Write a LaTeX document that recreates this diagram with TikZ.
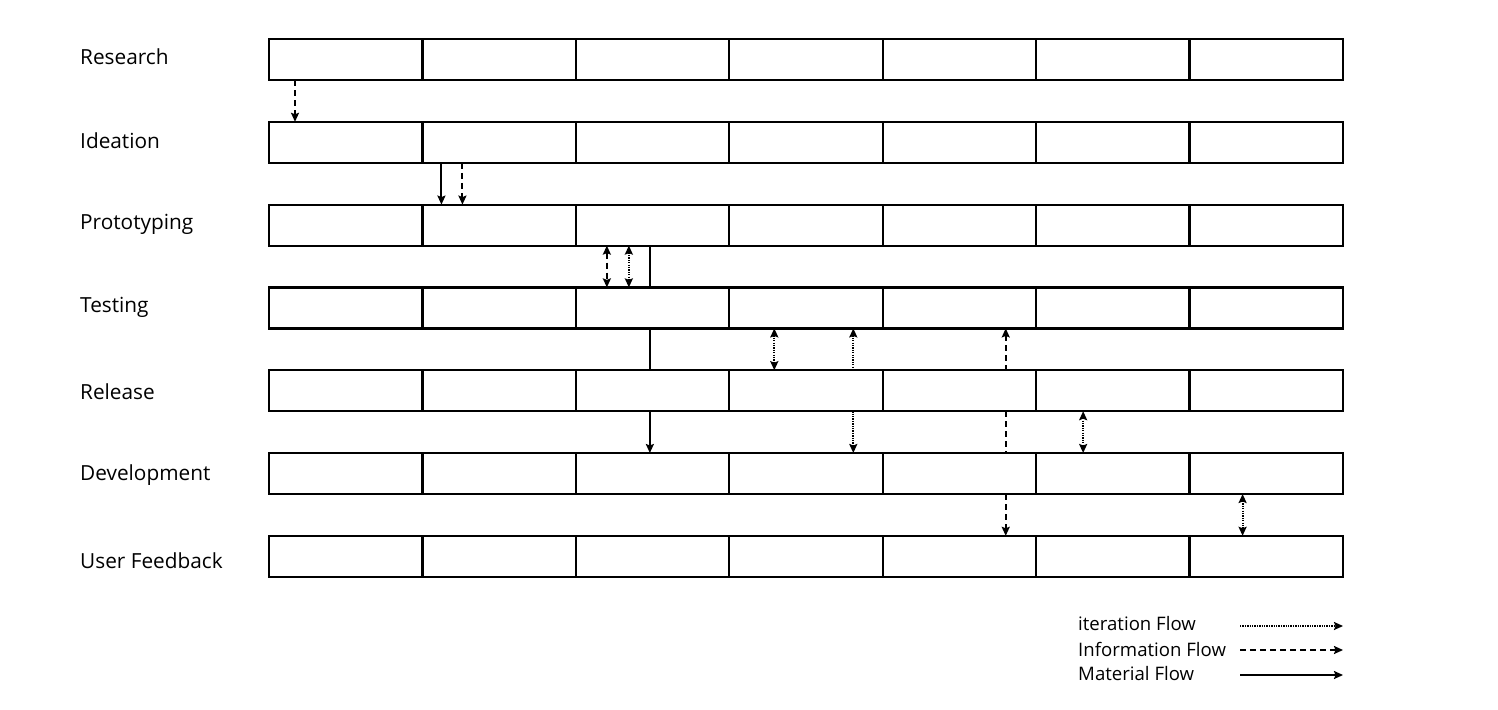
\documentclass[tikz,border=0pt]{standalone}
\usepackage{fontspec}
\setmainfont{Open Sans}
\usetikzlibrary{arrows.meta}
\begin{document}
\begin{tikzpicture}[x=1pt,y=-1pt,
  cell/.style={draw, line width=2.2pt, minimum width=153.43pt, minimum height=41pt, inner sep=0pt, outer sep=0pt},
  lbl/.style={anchor=west, inner sep=0pt, font=\fontsize{20.8}{25}\selectfont},
  leg/.style={anchor=west, inner sep=0pt, font=\fontsize{18.6}{22}\selectfont},
  flow/.style={line width=2pt, >={Stealth[length=9pt,width=8pt,inset=1.5pt]}},
  material/.style={flow},
  info/.style={flow, dash pattern=on 6pt off 4pt},
  iter/.style={flow, dash pattern=on 1.3pt off 1.1pt}]
\useasboundingbox (0,0) rectangle (1498,709);
\foreach \i/\name/\ly in {0/Research/57,1/Ideation/141,2/Prototyping/224,3/Testing/307,4/Release/392,5/Development/475,6/User Feedback/561}{
  \node[lbl] (L\i) at (80,\ly) {\name};
  \foreach \j in {0,...,6}{
    \node[cell] (c\i-\j) at ({269+153.43*\j+76.715},{59.5+82.8*\i}) {};
  }
}
% Research -> Ideation
\draw[info,->] ([xshift=26pt]c0-0.south west) -- ([xshift=26pt]c1-0.north west);
% Ideation -> Prototyping
\draw[material,->] ([xshift=19pt]c1-1.south west) -- ([xshift=19pt]c2-1.north west);
\draw[info,->] ([xshift=40pt]c1-1.south west) -- ([xshift=40pt]c2-1.north west);
% Prototyping <-> Testing
\draw[info,<->] ([xshift=31pt]c2-2.south west) -- ([xshift=31pt]c3-2.north west);
\draw[iter,<->] ([xshift=53pt]c2-2.south west) -- ([xshift=53pt]c3-2.north west);
\draw[material] ([xshift=74pt]c2-2.south west) -- ([xshift=74pt]c3-2.north west);
% Testing <-> Release
\draw[material] ([xshift=74pt]c3-2.south west) -- ([xshift=74pt]c4-2.north west);
\draw[iter,<->] ([xshift=45pt]c3-3.south west) -- ([xshift=45pt]c4-3.north west);
\draw[iter,<-] ([xshift=124pt]c3-3.south west) -- ([xshift=124pt]c4-3.north west);
\draw[info,<-] ([xshift=123pt]c3-4.south west) -- ([xshift=123pt]c4-4.north west);
% Release -> Development
\draw[material,->] ([xshift=74pt]c4-2.south west) -- ([xshift=74pt]c5-2.north west);
\draw[iter,->] ([xshift=124pt]c4-3.south west) -- ([xshift=124pt]c5-3.north west);
\draw[info] ([xshift=123pt]c4-4.south west) -- ([xshift=123pt]c5-4.north west);
\draw[iter,<->] ([xshift=47pt]c4-5.south west) -- ([xshift=47pt]c5-5.north west);
% Development -> User Feedback
\draw[info,->] ([xshift=123pt]c5-4.south west) -- ([xshift=123pt]c6-4.north west);
\draw[iter,<->] ([xshift=53pt]c5-6.south west) -- ([xshift=53pt]c6-6.north west);
% Legend
\node[leg] (t0) at (1078,624) {iteration Flow};
\node[leg] (t1) at (1078,649) {Information Flow};
\node[leg] (t2) at (1078,674) {Material Flow};
\coordinate (a0) at (1240,626); \coordinate (b0) at (1343,626);
\coordinate (a1) at (1240,650); \coordinate (b1) at (1343,650);
\coordinate (a2) at (1240,675); \coordinate (b2) at (1343,675);
\draw[iter,->] (a0) -- (b0);
\draw[info,->] (a1) -- (b1);
\draw[material,->] (a2) -- (b2);
\end{tikzpicture}
\end{document}
